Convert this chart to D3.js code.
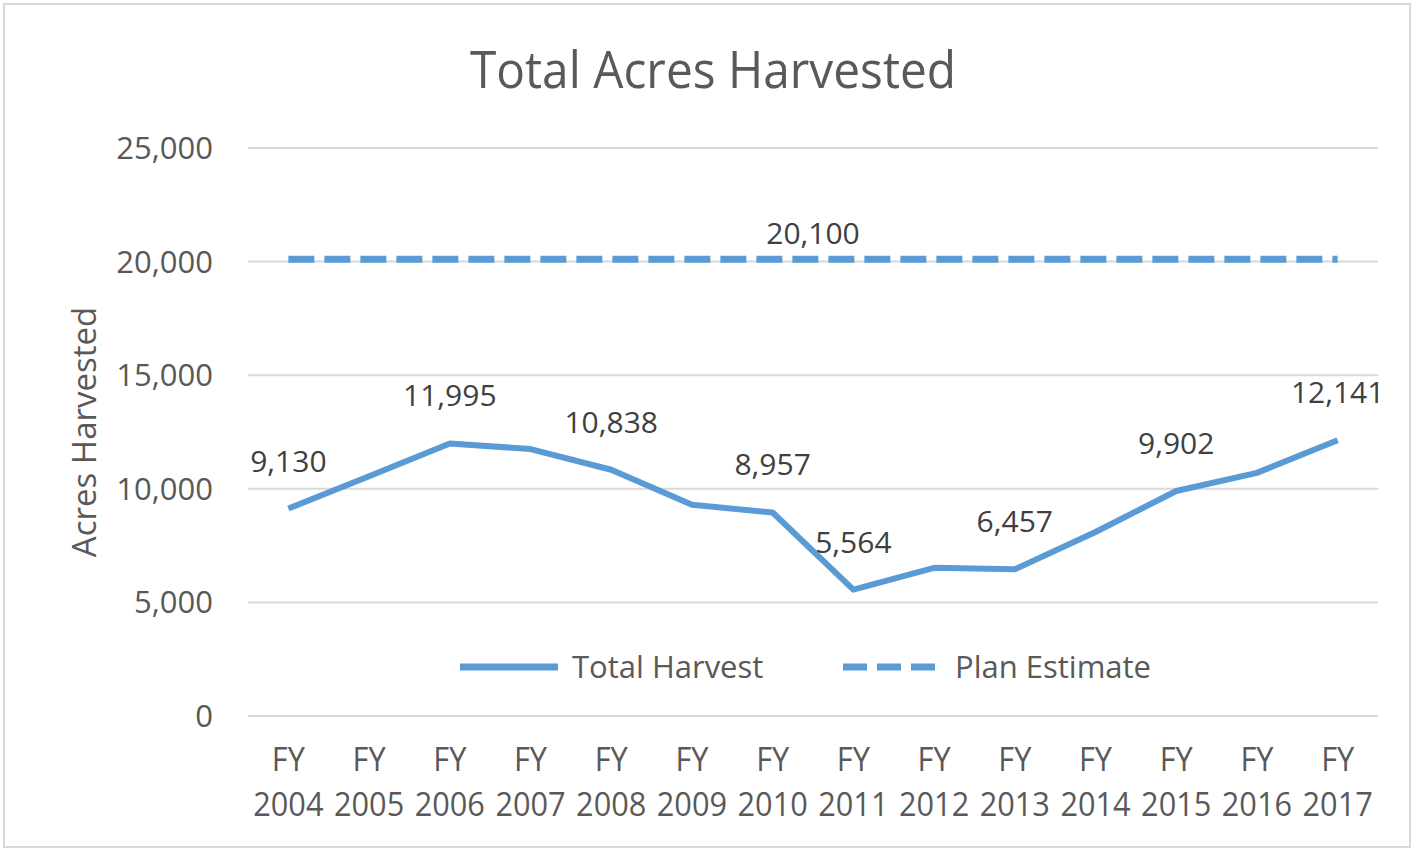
<!DOCTYPE html>
<html>
<head>
<meta charset="utf-8">
<style>
  body { margin: 0; background: #fff; }
  text { font-family: "Open Sans", "DejaVu Sans", sans-serif; }
</style>
</head>
<body>
<svg id="chart" width="1416" height="850"></svg>
<script src="https://d3js.org/d3.v7.min.js"></script>
<script>
// values
var years = ["2004", "2005", "2006", "2007", "2008", "2009", "2010",
             "2011", "2012", "2013", "2014", "2015", "2016", "2017"];
var harvest = [9130, 10550, 11995, 11750, 10838, 9300, 8957,
               5564, 6520, 6457, 8100, 9902, 10700, 12141];
var plan = [20100, 20100, 20100, 20100, 20100, 20100, 20100,
            20100, 20100, 20100, 20100, 20100, 20100, 20100];
var labelled = ["2004", "2006", "2008", "2010", "2011", "2013", "2015", "2017"];
var yTicks = [0, 5000, 10000, 15000, 20000, 25000];

var blue = "#5b9bd5";
var grey = "#595959";
var fmt = d3.format(",");

var svg = d3.select("#chart");

// outer chart border
svg.append("rect")
  .attr("x", 4).attr("y", 4)
  .attr("width", 1406).attr("height", 843)
  .attr("fill", "none")
  .attr("stroke", "#d9d9d9")
  .attr("stroke-width", 2);

var x = d3.scaleBand().domain(years).range([248, 1378]);
var y = d3.scaleLinear().domain([0, 25000]).range([716, 148]);
var cx = function(d) { return x(d) + x.bandwidth() / 2; };

// gridlines
svg.append("g")
  .selectAll("line")
  .data(yTicks)
  .join("line")
  .attr("x1", 248).attr("x2", 1378)
  .attr("y1", d => y(d)).attr("y2", d => y(d))
  .attr("stroke", "#d9d9d9")
  .attr("stroke-width", 2);

// y tick labels
svg.append("g")
  .selectAll("text")
  .data(yTicks)
  .join("text")
  .attr("x", 213)
  .attr("y", d => y(d) + 11)
  .attr("text-anchor", "end")
  .attr("font-size", 31)
  .attr("fill", grey)
  .text(d => fmt(d));

// axis title
svg.append("text")
  .attr("transform", "translate(96,432) rotate(-90)")
  .attr("text-anchor", "middle")
  .attr("font-size", 33)
  .attr("fill", grey)
  .text("Acres Harvested");

// x labels, two lines
var xl = svg.append("g")
  .selectAll("g")
  .data(years)
  .join("g")
  .attr("transform", d => "translate(" + cx(d) + ",0) scale(0.96,1)");
xl.append("text")
  .attr("y", 771)
  .attr("text-anchor", "middle")
  .attr("font-size", 32)
  .attr("fill", grey)
  .text("FY");
xl.append("text")
  .attr("y", 816)
  .attr("text-anchor", "middle")
  .attr("font-size", 32)
  .attr("fill", grey)
  .text(d => d);

// plan estimate (dashed)
var line = d3.line().x(d => cx(d[0])).y(d => y(d[1]));
svg.append("path")
  .datum(years.map((d, i) => [d, plan[i]]))
  .attr("d", line)
  .attr("fill", "none")
  .attr("stroke", blue)
  .attr("stroke-width", 7)
  .attr("stroke-dasharray", "26 10");

// total harvest
svg.append("path")
  .datum(years.map((d, i) => [d, harvest[i]]))
  .attr("d", line)
  .attr("fill", "none")
  .attr("stroke", blue)
  .attr("stroke-width", 6)
  .attr("stroke-linejoin", "round");

// data labels
svg.append("g")
  .selectAll("text")
  .data(years.map((d, i) => [d, harvest[i]]).filter(d => labelled.includes(d[0])))
  .join("text")
  .attr("x", d => cx(d[0]))
  .attr("y", d => y(d[1]) - 37)
  .attr("text-anchor", "middle")
  .attr("font-size", 30)
  .attr("fill", "#404040")
  .text(d => fmt(d[1]));

// single label for the plan line, between FY2010 and FY2011
svg.append("text")
  .attr("x", (cx("2010") + cx("2011")) / 2)
  .attr("y", y(plan[0]) - 15)
  .attr("text-anchor", "middle")
  .attr("font-size", 30)
  .attr("fill", "#404040")
  .text(fmt(plan[0]));

// title
svg.append("text")
  .attr("transform", "translate(713,88) scale(0.92,1)")
  .attr("text-anchor", "middle")
  .attr("font-size", 52)
  .attr("fill", grey)
  .text("Total Acres Harvested");

// legend
var legend = [
  { name: "Total Harvest", x: 460, dash: null },
  { name: "Plan Estimate", x: 843, dash: "24 10" }
];
var lg = svg.append("g")
  .selectAll("g")
  .data(legend)
  .join("g")
  .attr("transform", d => "translate(" + d.x + ",667)");
lg.append("line")
  .attr("x1", 0).attr("x2", 98)
  .attr("stroke", blue)
  .attr("stroke-width", 7)
  .attr("stroke-dasharray", d => d.dash);
lg.append("text")
  .attr("transform", "translate(112,11)")
  .attr("font-size", 31)
  .attr("fill", grey)
  .text(d => d.name);
</script>
</body>
</html>
